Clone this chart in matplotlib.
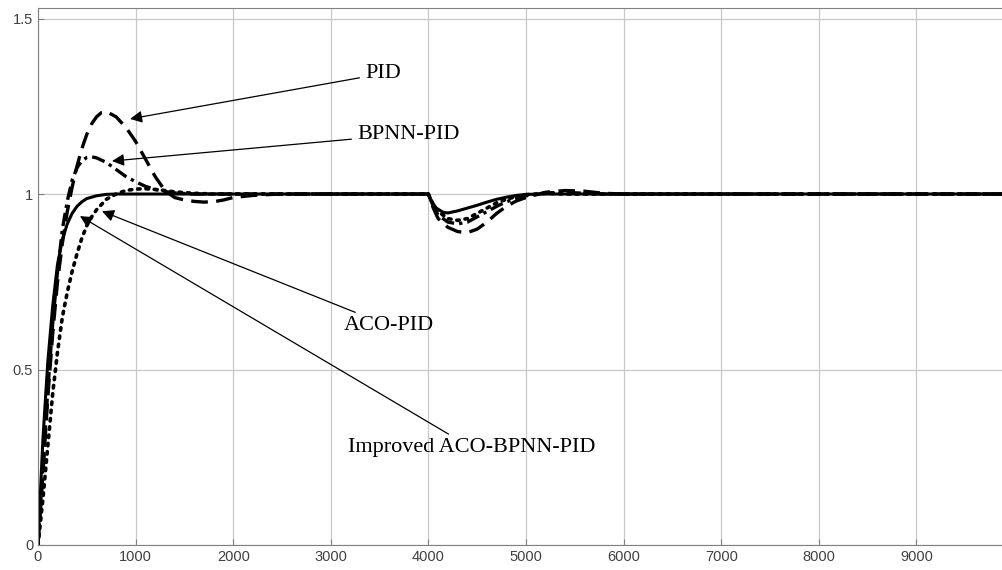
import matplotlib.pyplot as plt

# Curvas de respuesta
t_pid = [0, 50, 100, 150, 200, 250, 300, 350, 400, 450, 500, 550, 600, 650, 700,
         800, 900, 1000, 1100, 1200, 1300, 1400, 1500, 1600, 1700, 1800, 1900,
         2000, 2200, 2400, 2600, 4000, 4050, 4100, 4200, 4300, 4400, 4500, 4600,
         4700, 4800, 4900, 5000, 5200, 5400, 5600, 5800, 6000, 10000]
y_pid = [0, 0.2, 0.42, 0.6, 0.75, 0.86, 0.95, 1.02, 1.08, 1.13, 1.17, 1.2, 1.22, 1.232, 1.235,
         1.22, 1.19, 1.15, 1.1, 1.05, 1.01, 0.99, 0.983, 0.979, 0.977, 0.978, 0.983,
         0.99, 0.996, 0.999, 1.0, 1.0, 0.96, 0.93, 0.905, 0.893, 0.89, 0.9, 0.92,
         0.945, 0.965, 0.98, 0.99, 1.005, 1.01, 1.008, 1.002, 1.0, 1.0]

t_bpnn = [0, 50, 100, 150, 200, 250, 300, 350, 400, 450, 500, 550, 600, 700, 800,
          900, 1000, 1100, 1200, 1300, 1400, 1600, 4000, 4050, 4100, 4200, 4300,
          4400, 4500, 4600, 4700, 4800, 4900, 5000, 5200, 5400, 5600, 5800, 10000]
y_bpnn = [0, 0.22, 0.44, 0.63, 0.78, 0.9, 0.98, 1.04, 1.075, 1.095, 1.104, 1.106, 1.103, 1.09, 1.07,
          1.05, 1.035, 1.022, 1.013, 1.007, 1.003, 1.0, 1.0, 0.965, 0.94, 0.92, 0.915,
          0.92, 0.935, 0.95, 0.965, 0.978, 0.988, 0.995, 1.003, 1.005, 1.002, 1.0, 1.0]

t_aco = [0, 50, 100, 150, 200, 250, 300, 350, 400, 450, 500, 550, 600, 650, 700,
         800, 900, 1000, 1100, 1200, 1300, 1400, 1600, 1800, 4000, 4050, 4100, 4200,
         4300, 4400, 4500, 4600, 4700, 4800, 4900, 5000, 5200, 5400, 10000]
y_aco = [0, 0.13, 0.28, 0.43, 0.55, 0.65, 0.72, 0.78, 0.83, 0.875, 0.91, 0.935, 0.955, 0.97, 0.985,
         1.0, 1.01, 1.014, 1.015, 1.013, 1.01, 1.006, 1.002, 1.0, 1.0, 0.97, 0.95, 0.93,
         0.925, 0.93, 0.945, 0.96, 0.975, 0.985, 0.993, 0.998, 1.002, 1.0, 1.0]

t_mejor = [0, 25, 50, 100, 150, 200, 250, 300, 350, 400, 450, 500, 600, 700, 800,
           4000, 4030, 4080, 4150, 4200, 4300, 4400, 4500, 4600, 4700, 4800, 4900,
           5000, 5200, 10000]
y_mejor = [0, 0.15, 0.3, 0.52, 0.68, 0.8, 0.87, 0.915, 0.945, 0.965, 0.978, 0.987, 0.995, 0.999, 1.0,
           1.0, 0.98, 0.96, 0.948, 0.946, 0.952, 0.96, 0.968, 0.977, 0.985, 0.991, 0.996,
           0.999, 1.0, 1.0]

etiquetas = ['PID', 'BPNN-PID', 'ACO-PID', 'Improved ACO-BPNN-PID']
# punta de flecha (x, y) y posicion del texto (x, y)
puntas = [(943, 1.214), (758, 1.094), (656, 0.951), (430, 0.937)]
textos = [(3350, 1.343), (3268, 1.171), (3130, 0.625), (3176, 0.277)]

x_ticks = [0, 1000, 2000, 3000, 4000, 5000, 6000, 7000, 8000, 9000]
y_ticks = [0, 0.5, 1, 1.5]


def crear_grafica():
    fig = plt.figure(figsize=(10.03, 5.70), dpi=100)
    ax = fig.add_axes([38 / 1003, 25 / 570, 976 / 1003, 537 / 570])

    ax.plot(t_pid, y_pid, color='black', lw=2.4, ls=(0, (5, 2.5)))
    ax.plot(t_bpnn, y_bpnn, color='black', lw=2.4, ls=(0, (4, 1.5, 1, 1.5)))
    ax.plot(t_aco, y_aco, color='black', lw=2.6, ls=(0, (0.7, 1.6)), dash_capstyle='round')
    ax.plot(t_mejor, y_mejor, color='black', lw=2.2)

    ax.set_xlim(0, 10000)
    ax.set_ylim(0, 1.53)
    ax.set_xticks(x_ticks)
    ax.set_yticks(y_ticks)
    ax.set_yticklabels(['0', '0.5', '1', '1.5'])
    ax.grid(True, color='#c8c8c8', lw=0.9)
    ax.set_axisbelow(True)
    ax.tick_params(direction='in', length=4, colors='#808080', labelcolor='#404040',
                   labelsize=10.5)
    for lado in ax.spines.values():
        lado.set_color('#808080')
    for lab in ax.get_xticklabels() + ax.get_yticklabels():
        lab.set_family('Liberation Sans')

    for etiqueta, punta, texto in zip(etiquetas, puntas, textos):
        ax.annotate(etiqueta, xy=punta, xytext=texto, ha='left', va='center',
                    fontsize=16, family='Liberation Serif', color='black',
                    arrowprops=dict(arrowstyle='-|>', color='black', lw=0.9,
                                    mutation_scale=18, shrinkA=2, shrinkB=0))

    fig.savefig('out.png', dpi=100)


def main():
    crear_grafica()


if __name__ == "__main__":
    main()
